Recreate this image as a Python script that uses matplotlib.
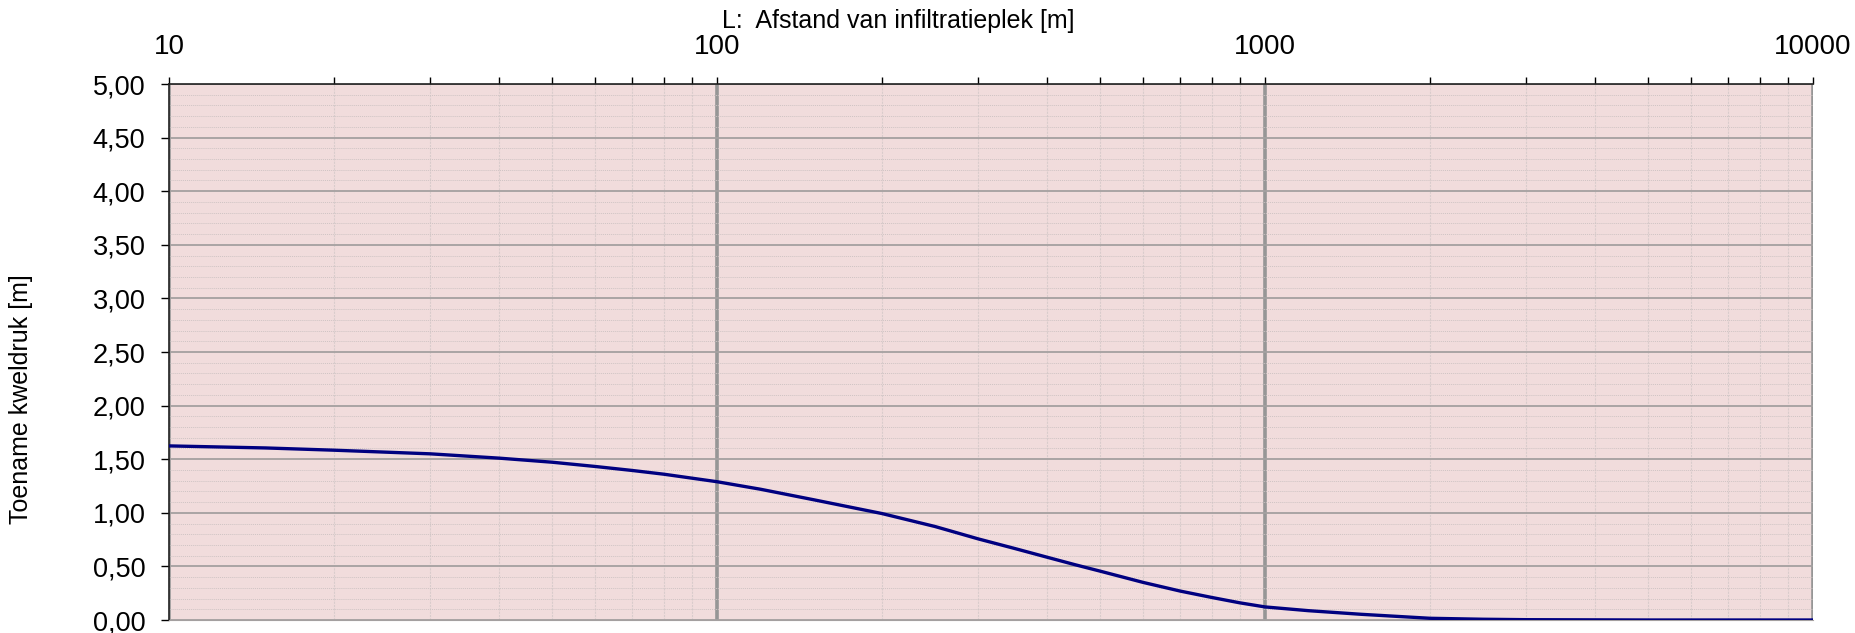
import numpy as np
import matplotlib.pyplot as plt
from matplotlib.ticker import FixedLocator, FuncFormatter, NullFormatter, MultipleLocator

plt.rcParams['font.family'] = ['Liberation Sans', 'DejaVu Sans']

# afstand [m] en toename kweldruk [m]
afstand = [10, 15, 20, 30, 40, 50, 60, 70, 80, 100, 120, 150, 200, 250, 300,
           350, 400, 450, 500, 600, 700, 800, 900, 1000, 1200, 1500, 2000,
           2500, 3000, 5000, 10000]
kweldruk = [1.624, 1.605, 1.584, 1.55, 1.51, 1.472, 1.432, 1.395, 1.36, 1.29,
            1.22, 1.122, 0.993, 0.872, 0.756, 0.666, 0.586, 0.516, 0.456, 0.35,
            0.27, 0.21, 0.16, 0.122, 0.087, 0.053, 0.016, 0.007, 0.003, 0.0,
            0.0]
x_ticks = [10, 100, 1000, 10000]
y_ticks = [0, 0.5, 1, 1.5, 2, 2.5, 3, 3.5, 4, 4.5, 5]

fig = plt.figure(figsize=(18.56, 6.33), dpi=100)
ax = fig.add_axes([169 / 1856, 1 - 620 / 633, (1813 - 169) / 1856, (620 - 84) / 633])
ax.set_facecolor('#f1dcdc')

ax.plot(afstand, kweldruk, color='#000080', lw=2.4, zorder=5)

ax.set_xscale('log')
ax.set_xlim(10, 10000)
ax.set_ylim(0, 5)

ax.xaxis.set_major_locator(FixedLocator(x_ticks))
ax.xaxis.set_major_formatter(FuncFormatter(lambda v, p: '%d' % v))
ax.xaxis.set_minor_locator(FixedLocator([m * 10 ** d for d in range(1, 4) for m in range(2, 10)]))
ax.xaxis.set_minor_formatter(NullFormatter())
ax.xaxis.tick_top()
ax.tick_params(axis='x', which='both', direction='out', length=5, width=1, pad=12,
               labelsize=20, top=True, bottom=False)

ax.yaxis.set_major_locator(FixedLocator(y_ticks))
ax.yaxis.set_minor_locator(MultipleLocator(0.1))
ax.yaxis.set_major_formatter(FuncFormatter(lambda v, p: ('%.2f' % v).replace('.', ',')))
ax.tick_params(axis='y', which='major', direction='out', length=6, width=1, pad=11, labelsize=19.5)
ax.tick_params(axis='y', which='minor', length=0)

# rasterlijnen
ax.grid(True, axis='x', which='major', color='#969696', lw=2.6, zorder=1)
ax.grid(True, axis='x', which='minor', color='#d9cccc', lw=0.8, ls=(0, (2, 1)), zorder=1)
ax.grid(True, axis='y', which='major', color='#a4a0a0', lw=1.3, zorder=1)
ax.grid(True, axis='y', which='minor', color='#cfc4c4', lw=0.7, ls=(0, (1, 1)), zorder=1)
ax.set_axisbelow(True)

ax.spines['right'].set_visible(False)
ax.spines['bottom'].set_color('#a4a0a0')
ax.spines['top'].set_color('#202020')
ax.spines['left'].set_color('#202020')
ax.spines['top'].set_linewidth(1.2)
ax.spines['left'].set_linewidth(1.2)

fig.text(898 / 1856, 1 - 21 / 633, 'L:  Afstand van infiltratieplek [m]',
         ha='center', va='center', fontsize=18)
fig.text(21 / 1856, 1 - 399 / 633, 'Toename kweldruk [m]', rotation=90,
         ha='center', va='center', fontsize=18)

fig.savefig('out.png', dpi=100)
